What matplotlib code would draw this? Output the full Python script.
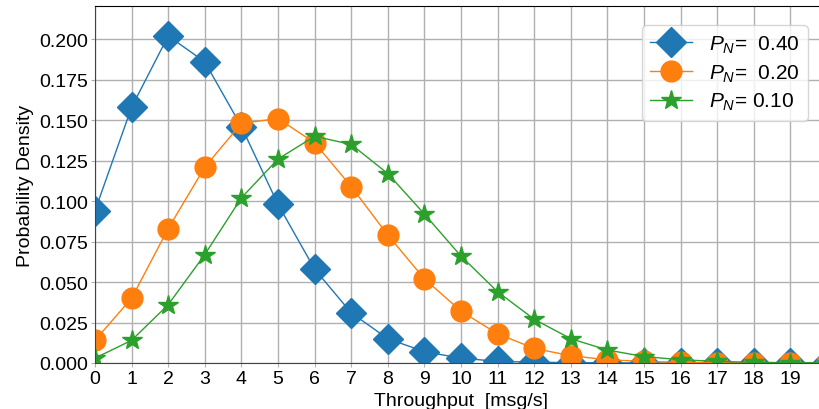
import numpy as np
import matplotlib
matplotlib.use("Agg")
import matplotlib.pyplot as plt

plt.rcParams['font.family'] = ['Liberation Sans', 'DejaVu Sans']
plt.rcParams['mathtext.fontset'] = 'custom'
plt.rcParams['mathtext.it'] = 'Liberation Sans:italic'
plt.rcParams['mathtext.rm'] = 'Liberation Sans'

throughput = list(range(0, 21))
pdf_040 = [0.094, 0.158, 0.202, 0.186, 0.146, 0.098, 0.058, 0.031, 0.015, 0.007,
           0.003, 0.001, 0.0005, 0.0002, 0.0001, 0.0, 0.0, 0.0, 0.0, 0.0, 0.0]
pdf_020 = [0.014, 0.040, 0.083, 0.121, 0.148, 0.151, 0.136, 0.109, 0.079, 0.052,
           0.032, 0.018, 0.009, 0.0045, 0.002, 0.001, 0.0004, 0.0002, 0.0001, 0.0, 0.0]
pdf_010 = [0.003, 0.014, 0.036, 0.067, 0.102, 0.126, 0.140, 0.135, 0.117, 0.092,
           0.066, 0.044, 0.027, 0.015, 0.008, 0.004, 0.002, 0.001, 0.0004, 0.0002, 0.0001]
xtick_labels = [str(i) for i in range(0, 20)]
labels = ["$P_N$=  0.40", "$P_N$=  0.20", "$P_N$= 0.10"]

fig = plt.figure(figsize=(8.2, 4.1), dpi=100)
ax = fig.add_axes([95/820, 46/410, 732/820, 357/410])

ax.plot(throughput, pdf_040, marker="D", markersize=15, lw=1, color="#1f77b4", label=labels[0])
ax.plot(throughput, pdf_020, marker="o", markersize=15, lw=1, color="#ff7f0e", label=labels[1])
ax.plot(throughput, pdf_010, marker="*", markersize=15, lw=1, color="#2ca02c", label=labels[2])

ax.set_xlim(0, 20)
ax.set_ylim(0, 0.2205)
ax.set_xticks(range(0, 20))
ax.set_xticklabels(xtick_labels)
ax.set_yticks(np.arange(0, 0.201, 0.025))
ax.yaxis.set_major_formatter(matplotlib.ticker.FormatStrFormatter("%.3f"))
ax.tick_params(axis="both", length=3, color="#b0b0b0", labelsize=14, pad=2)
ax.grid(True, color="#b0b0b0", lw=1)
ax.set_axisbelow(True)
for s in ["bottom", "left"]:
    ax.spines[s].set_color("#444444")

ax.set_xlabel("Throughput  [msg/s]", fontsize=14, labelpad=4)
ax.set_ylabel("Probability Density", fontsize=14, labelpad=4)

ax.legend(loc="upper right", bbox_to_anchor=(818/820, 1 - 16/410),
          bbox_transform=fig.transFigure, fontsize=15, handlelength=2,
          borderpad=0.4, labelspacing=0.35, handletextpad=0.8)

fig.savefig("out.png", dpi=100)
